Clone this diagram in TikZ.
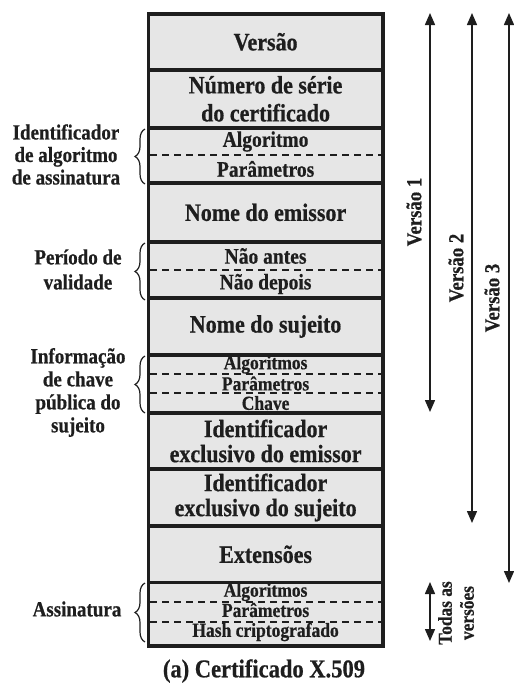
\documentclass[tikz,border=0pt]{standalone}
\usepackage{fontspec}
\setmainfont{Liberation Serif}[FakeStretch=0.88, BoldFeatures={FakeBold=0.6}]
\usetikzlibrary{decorations.pathreplacing,arrows.meta}
\definecolor{ink}{HTML}{1E1E1E}
\definecolor{cell}{HTML}{E6E6E6}
\begin{document}
\begin{tikzpicture}[x=1pt,y=-1pt,
  field/.style={draw=ink, fill=cell, line width=3.6pt, minimum width=234.2pt, inner sep=0pt, text=ink, font=\bfseries\fontsize{25}{28}\selectfont, align=center},
  sub/.style={text=ink, inner sep=0pt, font=\bfseries\fontsize{22.2}{22}\selectfont},
  tiny/.style={text=ink, inner sep=0pt, font=\bfseries\fontsize{19.9}{20}\selectfont},
  side/.style={text=ink, inner sep=0pt, align=center, font=\bfseries\fontsize{21.6}{23}\selectfont},
  sep/.style={draw=ink, line width=1.8pt, dash pattern=on 7pt off 5pt},
  brc/.style={draw=ink, line width=1.2pt, decorate, decoration={brace, amplitude=10pt}},
  ver/.style={draw=ink, line width=1.5pt, {Triangle[length=12pt,width=10pt]}-{Triangle[length=12pt,width=10pt]}},
  vlab/.style={text=ink, inner sep=0pt, rotate=90, align=center, font=\bfseries\fontsize{21.3}{22}\selectfont},
]
\useasboundingbox (0,0) rectangle (514,686);

% fields
\node[field, minimum height=56.3pt] (versao) at (265.6,41.85) {Versão};
\node[field, minimum height=57.7pt] (serie) at (265.6,98.85) {Número de série\\do certificado};
\node[field, minimum height=55pt] (algid) at (265.6,155.2) {};
\node[field, minimum height=59.3pt] (emissor) at (265.6,212.35) {Nome do emissor};
\node[field, minimum height=56pt] (validade) at (265.6,270) {};
\node[field, minimum height=57pt] (sujeito) at (265.6,326.5) {Nome do sujeito};
\node[field, minimum height=58pt] (chavepub) at (265.6,384) {};
\node[field, minimum height=56pt] (idem) at (265.6,441) {Identificador\\[-3pt]exclusivo do emissor};
\node[field, minimum height=57pt] (idsu) at (265.6,497.5) {Identificador\\[-3pt]exclusivo do sujeito};
\node[field, minimum height=56.5pt] (ext) at (265.6,554.25) {Extensões};
\node[field, minimum height=63.5pt] (assin) at (265.6,614.25) {};

% dashed dividers
\draw[sep] (150.3,155) -- (380.9,155);
\draw[sep] (150.3,270) -- (380.9,270);
\draw[sep] (150.3,374) -- (380.9,374);
\draw[sep] (150.3,393) -- (380.9,393);
\draw[sep] (150.3,602.3) -- (380.9,602.3);
\draw[sep] (150.3,621.7) -- (380.9,621.7);

% sub-field texts
\node[sub] (t-alg) at (265.6,141.5) {Algoritmo};
\node[sub] (t-par) at (265.6,169) {Parâmetros};
\node[sub] (t-na) at (265.6,256) {Não antes};
\node[sub] (t-nd) at (265.6,284) {Não depois};
\node[tiny] (t-alg2) at (265.6,364.5) {Algoritmos};
\node[tiny] (t-par2) at (265.6,383.5) {Parâmetros};
\node[tiny] (t-ch) at (265.6,403) {Chave};
\node[tiny] (t-alg3) at (265.6,592) {Algoritmos};
\node[tiny] (t-par3) at (265.6,610) {Parâmetros};
\node[tiny] (t-hash) at (265.6,632) {Hash criptografado};

% braces
\draw[brc] (145,184) -- (145,129);
\draw[brc] (145,300) -- (145,243);
\draw[brc] (145,413) -- (145,356);
\draw[brc] (145,642) -- (145,583);

% side labels
\node[side, font=\bfseries\fontsize{21.6}{22.5}\selectfont] (l-algid) at (66,154.5) {Identificador\\de algoritmo\\de assinatura};
\node[side, font=\bfseries\fontsize{21.6}{25}\selectfont] (l-val) at (78,269.5) {Período de\\validade};
\node[side] (l-chave) at (78,392.5) {Informação\\de chave\\pública do\\sujeito};
\node[side] (l-assin) at (77,609) {Assinatura};

% version arrows
\coordinate (v1a) at (430,13); \coordinate (v1b) at (430,412);
\coordinate (v2a) at (472,13); \coordinate (v2b) at (472,523);
\coordinate (v3a) at (509,13); \coordinate (v3b) at (509,583);
\coordinate (ta) at (430,582); \coordinate (tb) at (430,641);
\draw[ver] (v1a) -- (v1b);
\draw[ver] (v2a) -- (v2b);
\draw[ver] (v3a) -- (v3b);
\draw[ver] (ta) -- (tb);

\node[vlab] (lv1) at (414,212) {Versão 1};
\node[vlab] (lv2) at (456,268) {Versão 2};
\node[vlab] (lv3) at (492,298) {Versão 3};
\node[vlab, font=\bfseries\fontsize{19.7}{22}\selectfont] (ltodas) at (456,613) {Todas as\\versões};

% caption
\node[text=ink, inner sep=0pt, font=\bfseries\fontsize{25.6}{27}\selectfont] (cap) at (264,671) {(a) Certificado X.509};
\end{tikzpicture}
\end{document}
